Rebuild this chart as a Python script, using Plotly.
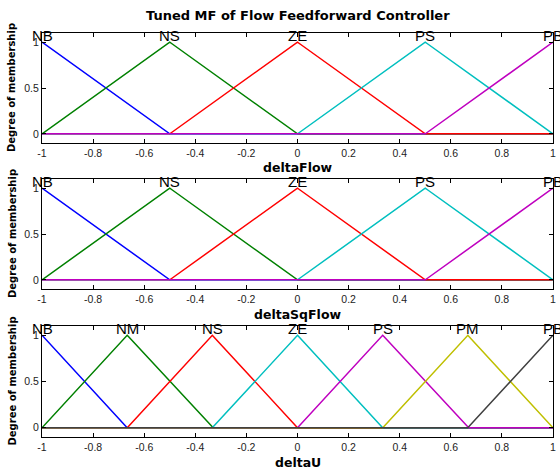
import numpy as np
import plotly.graph_objects as go

# ---- data ----
title = "Tuned MF of Flow Feedforward Controller"
y_label = "Degree of membership"

in1_name = "deltaFlow"
in1_mfs = ["NB", "NS", "ZE", "PS", "PB"]
in1_a = [-1.5, -1.0, -0.5, 0.0, 0.5]
in1_b = [-1.0, -0.5, 0.0, 0.5, 1.0]
in1_c = [-0.5, 0.0, 0.5, 1.0, 1.5]

in2_name = "deltaSqFlow"
in2_mfs = ["NB", "NS", "ZE", "PS", "PB"]
in2_a = [-1.5, -1.0, -0.5, 0.0, 0.5]
in2_b = [-1.0, -0.5, 0.0, 0.5, 1.0]
in2_c = [-0.5, 0.0, 0.5, 1.0, 1.5]

out_name = "deltaU"
out_mfs = ["NB", "NM", "NS", "ZE", "PS", "PM", "PB"]
out_a = [-1.3333, -1.0, -0.6667, -0.3333, 0.0, 0.3333, 0.6667]
out_b = [-1.0, -0.6667, -0.3333, 0.0, 0.3333, 0.6667, 1.0]
out_c = [-0.6667, -0.3333, 0.0, 0.3333, 0.6667, 1.0, 1.3333]

x_ticks = [-1, -0.8, -0.6, -0.4, -0.2, 0, 0.2, 0.4, 0.6, 0.8, 1]
y_ticks = [0, 0.5, 1]

colors = ["rgb(0,0,255)", "rgb(0,128,0)", "rgb(255,0,0)", "rgb(0,191,191)",
          "rgb(191,0,191)", "rgb(191,191,0)", "rgb(64,64,64)"]

# ---- layout geometry ----
W, H = 560, 471


def px(x):
    return x / W


def py(y):
    return 1 - y / H


xdom = [px(42), px(553)]
panels_px = [(33, 143), (179, 289), (326, 437)]
ydoms = [[py(b), py(t)] for t, b in panels_px]

fig = go.Figure()


def trimf(x, a, b, c):
    left = (x - a) / (b - a) if b != a else np.ones_like(x)
    right = (c - x) / (c - b) if c != b else np.ones_like(x)
    return np.clip(np.minimum(left, right), 0, 1)


panels = [
    (in1_name, in1_mfs, in1_a, in1_b, in1_c),
    (in2_name, in2_mfs, in2_a, in2_b, in2_c),
    (out_name, out_mfs, out_a, out_b, out_c),
]

BOLD = "DejaVu Sans, Verdana, sans-serif"
REG = "Liberation Sans, Arial, sans-serif"

annotations = []
for i, (name, mfs, aa, bb, cc) in enumerate(panels):
    k = i + 1
    xa = "x" if k == 1 else f"x{k}"
    ya = "y" if k == 1 else f"y{k}"
    bps = sorted(set([v for v in aa + bb + cc if -1 <= v <= 1] + [-1.0, 1.0]))
    xs = np.array(sorted(set(list(np.linspace(-1, 1, 201)) + bps)))
    for j, mf in enumerate(mfs):
        ys = trimf(xs, aa[j], bb[j], cc[j])
        fig.add_trace(go.Scatter(x=xs, y=ys, mode="lines", xaxis=xa, yaxis=ya,
                                 line=dict(color=colors[j], width=1.5),
                                 showlegend=False, hoverinfo="skip"))
        annotations.append(dict(x=bb[j], y=1.0, xref=xa, yref=ya, text=mf,
                                showarrow=False, xanchor="center", yanchor="bottom",
                                yshift=-4,
                                font=dict(family=REG, size=15, color="black")))
    axis_common = dict(showline=True, linecolor="black", linewidth=1.2, mirror="ticks",
                       ticks="inside", ticklen=4, tickcolor="black", showgrid=False,
                       zeroline=False, automargin=False,
                       tickfont=dict(family=REG, size=10.5, color="#222"))
    fig.update_layout(**{
        ("xaxis" if k == 1 else f"xaxis{k}"): dict(
            domain=xdom, range=[-1, 1], anchor=ya, tickvals=x_ticks,
            ticktext=[f"{v:g}" for v in x_ticks], **axis_common),
        ("yaxis" if k == 1 else f"yaxis{k}"): dict(
            domain=ydoms[i], range=[-0.1, 1.1], anchor=xa, tickvals=y_ticks,
            ticktext=[f"{v:g}" for v in y_ticks], **axis_common),
    })
    t, b = panels_px[i]
    # x-axis title
    annotations.append(dict(x=(xdom[0] + xdom[1]) / 2, y=py(b + 25), xref="paper", yref="paper",
                            text=f"<b>{name}</b>", showarrow=False, xanchor="center", yanchor="middle",
                            font=dict(family=BOLD, size=12.5, color="black")))
    # y-axis title
    annotations.append(dict(x=px(12), y=py((t + b) / 2), xref="paper", yref="paper",
                            text=f"<b>{y_label}</b>", showarrow=False, textangle=-90,
                            xanchor="center", yanchor="middle",
                            font=dict(family=BOLD, size=10, color="black")))

annotations.append(dict(x=(xdom[0] + xdom[1]) / 2, y=py(16), xref="paper", yref="paper",
                        text=f"<b>{title}</b>", showarrow=False, xanchor="center", yanchor="middle",
                        font=dict(family=BOLD, size=13, color="black")))

fig.update_layout(width=W, height=H, margin=dict(l=0, r=0, t=0, b=0),
                  paper_bgcolor="white", plot_bgcolor="white",
                  annotations=annotations, showlegend=False)

fig.write_html("out.html", config={"displayModeBar": False},
               post_script="document.body.style.margin='0';document.body.style.overflow='hidden';")
